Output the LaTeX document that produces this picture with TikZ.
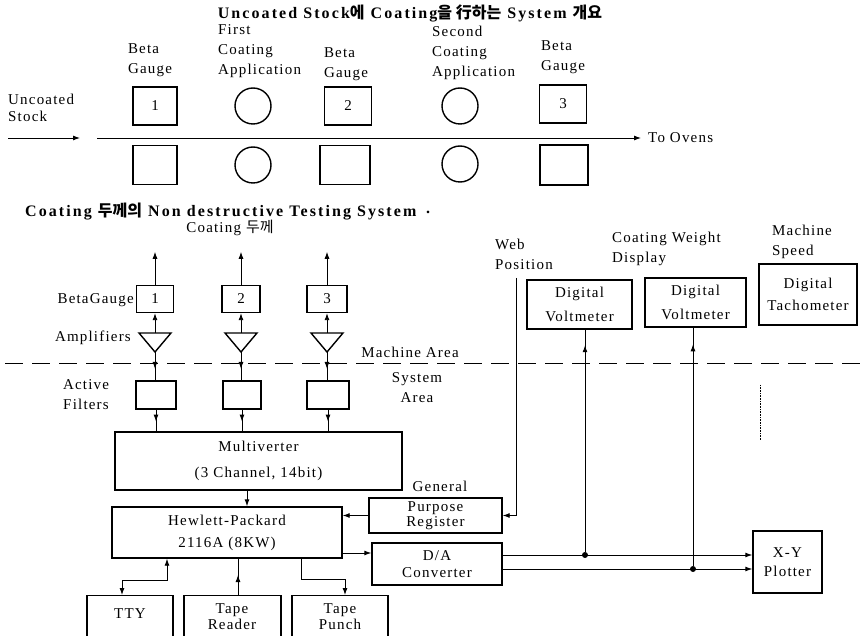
\documentclass[tikz,border=0pt]{standalone}
\usepackage{fontspec}
\setmainfont{Liberation Serif}[LetterSpace=8]
\newfontfamily\kr{Noto Sans CJK KR}
\newfontfamily\ttlfont{Liberation Serif}[LetterSpace=13]
\usetikzlibrary{arrows.meta,decorations.markings,calc}
\begin{document}
\begin{tikzpicture}[x=1pt,y=-1pt,
 box/.style={draw, line width=1.4pt, inner sep=0pt, align=center, font=\fontsize{15}{20}\selectfont},
 circ/.style={draw, circle, line width=1.4pt, minimum size=36pt, inner sep=0pt},
 conn/.style={line width=0.9pt},
 tip/.tip={Latex[length=7pt,width=5pt]},
 arr/.style={conn, -tip},
 barr/.style={conn, tip-tip},
 midarr/.style={conn, postaction={decorate}, decoration={markings, mark=at position #1 with {\arrow{tip}}}},
 midarr/.default=0.6,
 lbl/.style={inner sep=0pt, align=center, font=\fontsize{15}{20}\selectfont},
 ttl/.style={inner sep=0pt, font=\ttlfont\bfseries\fontsize{16}{18}\selectfont},
 jdot/.style={circle, fill, inner sep=0pt, minimum size=6pt},
 area/.style={line width=1pt, dash pattern=on 18pt off 9pt},
]
\useasboundingbox (0,0) rectangle (860,636);
\clip (0,0) rectangle (860,636);
\fill[white] (0,0) rectangle (860,636);

% ---------- upper diagram ----------
\node[ttl] (title) at (410,13) {Uncoated Stock{\kr\bfseries 에} Coating{\kr\bfseries 을 行하는} System {\kr\bfseries 개요}};

\node[lbl, align=left] (bg1) at (150,60) {Beta\\Gauge};
\node[lbl, align=left, anchor=west] (fca) at (218,51) {First\\Coating\\Application};
\node[lbl, align=left] (bg2) at (346,64) {Beta\\Gauge};
\node[lbl, align=left, anchor=west] (sca) at (432,53) {Second\\Coating\\Application};
\node[lbl, align=left] (bg3) at (563,57) {Beta\\Gauge};
\node[lbl, align=left, anchor=west, font=\fontsize{15}{17}\selectfont] (us) at (8,108) {Uncoated\\Stock};

\node[box, minimum width=44pt, minimum height=38pt] (gA) at (155,106) {1};
\node[circ] (cA) at (253,106) {};
\node[box, minimum width=47pt, minimum height=38pt] (gB) at (348,106) {2};
\node[circ] (cB) at (460,106) {};
\node[box, minimum width=47pt, minimum height=38pt] (gC) at (563,104) {3};

\node[box, minimum width=44pt, minimum height=39pt] (bA) at (155,165) {};
\node[circ] (cC) at (253,165) {};
\node[box, minimum width=50pt, minimum height=39pt] (bB) at (345,165) {};
\node[circ] (cD) at (460,164) {};
\node[box, minimum width=48pt, minimum height=40pt] (bC) at (564,165) {};

\coordinate (s0) at (8,138);
\coordinate (s1) at (80,138);
\draw[arr] (s0) -- (s1);
\coordinate (m0) at (97,138);
\node[lbl, anchor=west] (ovens) at (648,138) {To Ovens};
\draw[arr, shorten >=7pt] (m0) -- (ovens.west);

% ---------- lower diagram ----------
\node[ttl, anchor=west] (t2) at (25,212) {Coating {\kr\bfseries 두께의} Non destructive Testing System};
\node[ttl] (t2dot) at (428,212) {.};

\node[lbl] (ct) at (230,228) {Coating {\kr 두께}};

% beta gauges
\node[box, minimum width=37pt, minimum height=27pt] (G1) at (155,299) {1};
\node[box, minimum width=38pt, minimum height=27pt] (G2) at (241,299) {2};
\node[box, minimum width=40pt, minimum height=27pt] (G3) at (327,299) {3};
\node[lbl, anchor=east] (bgl) at (134,300) {BetaGauge};
\foreach \i in {1,2,3}{
  \coordinate (U\i) at ([yshift=33pt]G\i.north);
  \draw[arr] (G\i.north) -- (U\i);
}

% amplifiers
\node[lbl, anchor=east] (ampl) at (131,338) {Amplifiers};
\foreach \i/\x in {1/155,2/241,3/327}{
  \coordinate (A\i) at (\x,333);
  \coordinate (P\i) at (\x,352);
  \draw[line width=1.4pt] (\x-16,333) -- (\x+16,333) -- (P\i) -- cycle;
  \draw[conn, tip-] (G\i.south) -- (A\i);
}

% area separation
\coordinate (d0) at (5,364);
\coordinate (d1) at (860,364);
\draw[area] (d0) -- (d1);
\node[lbl] (ma) at (410,352) {Machine Area};
\node[lbl] (sa) at (417,388) {System\\Area};
\coordinate (v0) at (760,385);
\coordinate (v1) at (760,440);
\draw[densely dotted, line width=0.6pt] (v0) -- (v1);

% active filters
\node[lbl] (afl) at (86,395) {Active\\Filters};
\node[box, minimum width=40pt, minimum height=28pt] (F1) at (156,395) {};
\node[box, minimum width=38pt, minimum height=28pt] (F2) at (242,395) {};
\node[box, minimum width=42pt, minimum height=28pt] (F3) at (328,395) {};
\foreach \i in {1,2,3}{
  \draw[midarr=0.6] (P\i) -- (P\i |- F\i.north);
}

% multiverter
\node[box, minimum width=287pt, minimum height=58pt, font=\fontsize{15}{26}\selectfont] (M) at (258.5,461) {Multiverter\\(3 Channel, 14bit)};
\foreach \i in {1,2,3}{
  \draw[midarr=0.55] (F\i.south) -- (F\i.south |- M.north);
}

% computer
\node[box, minimum width=230pt, minimum height=51pt, font=\fontsize{15}{22}\selectfont] (HP) at (227,532.5) {Hewlett-Packard\\2116A (8KW)};
\coordinate (mo) at ([xshift=-11.5pt]M.south);
\draw[arr] (mo) -- (mo |- HP.north);

\node[lbl] (gen) at (440,486) {General};
\node[box, minimum width=133pt, minimum height=35pt, font=\fontsize{15}{15}\selectfont] (GPR) at (435.5,515.5) {Purpose\\Register};
\draw[arr] (GPR.west) -- (GPR.west -| HP.east);

\node[box, minimum width=130pt, minimum height=42pt, font=\fontsize{15}{17}\selectfont] (DA) at (437,564) {D/A\\Converter};
\coordinate (daIn) at ([yshift=11pt]DA.west);
\draw[arr] (HP.east |- daIn) -- (daIn);

% displays
\node[lbl, align=left, anchor=west] (wp) at (495,254) {Web\\Position};
\node[lbl, align=left, anchor=west] (cwd) at (612,249) {Coating Weight\\Display};
\node[lbl, align=left, anchor=west] (msp) at (772,242) {Machine\\Speed};
\node[box, minimum width=105pt, minimum height=49pt, font=\fontsize{15}{24}\selectfont] (V1) at (579.5,304.5) {Digital\\Voltmeter};
\node[box, minimum width=101pt, minimum height=49pt, font=\fontsize{15}{24}\selectfont] (V2) at (695.5,302.5) {Digital\\Voltmeter};
\node[box, minimum width=98pt, minimum height=61pt, font=\fontsize{15}{22}\selectfont] (T) at (808,294.5) {Digital\\Tachometer};

\coordinate (w0) at (516,278);
\draw[arr] (w0) |- (GPR.east);

% plotter
\node[box, minimum width=69pt, minimum height=62pt, font=\fontsize{15}{19}\selectfont] (XY) at (787.5,562) {X-Y\\Plotter};
\coordinate (o1) at ([yshift=9pt]DA.east);
\coordinate (o2) at ([yshift=-5pt]DA.east);
\draw[arr] (o1) -- (o1 -| XY.west);
\draw[arr] (o2) -- (o2 -| XY.west);
\node[jdot] (j1) at ([xshift=5.5pt]V1.south |- o1) {};
\node[jdot] (j2) at ([xshift=-2.5pt]V2.south |- o2) {};
\draw[midarr=0.93] (j1) -- (j1 |- V1.south);
\draw[midarr=0.93] (j2) -- (j2 |- V2.south);

% peripherals
\node[box, anchor=north, minimum width=86pt, minimum height=64pt] (TTY) at (130,595) {};
\node[box, anchor=north, minimum width=97pt, minimum height=64pt] (TR) at (232.5,595) {};
\node[box, anchor=north, minimum width=96pt, minimum height=64pt] (TP) at (340,595) {};
\node[lbl] (ttyT) at (130,614) {TTY};
\node[lbl, font=\fontsize{15}{16}\selectfont] (trT) at (232,617) {Tape\\Reader};
\node[lbl, font=\fontsize{15}{16}\selectfont] (tpT) at (340,617) {Tape\\Punch};

\coordinate (h1) at ([xshift=-60pt]HP.south);
\coordinate (h2) at ([xshift=11pt]HP.south);
\coordinate (h3) at ([xshift=74pt]HP.south);
\draw[barr] (h1) -- ++(0,22) -| ([xshift=-8pt]TTY.north);
\draw[conn, postaction={decorate}, decoration={markings, mark=at position 0.45 with {\arrowreversed{tip}}}] (h2) -- (h2 |- TR.north);
\draw[arr] (h3) -- ++(0,21) -| ([xshift=5pt]TP.north);
\end{tikzpicture}
\end{document}
